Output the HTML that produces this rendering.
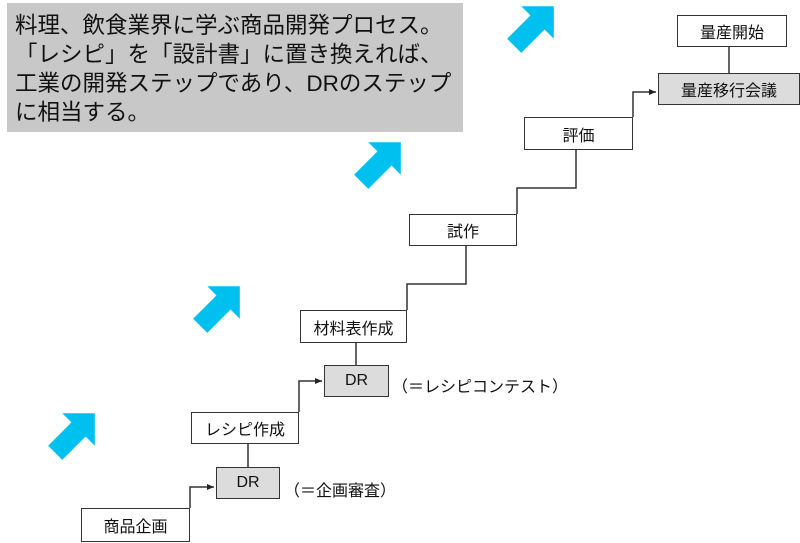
<!DOCTYPE html>
<html><head><meta charset="utf-8"><style>
body{margin:0;width:800px;height:543px;background:#fff;position:relative;overflow:hidden;font-family:"Liberation Sans","Noto Sans CJK JP",sans-serif;}
.t{position:absolute;left:7px;top:3px;width:456px;height:129px;background:#c8c8c8;font-size:22.5px;line-height:29px;color:#111;padding:8px 0 0 8px;box-sizing:border-box;white-space:nowrap}
.b{position:absolute;border:1.5px solid #333;background:#fff;box-sizing:border-box;font-size:16px;display:flex;align-items:center;justify-content:center;color:#111}
.g{background:#dcdcdc}
.l{position:absolute;font-size:16px;color:#111}
svg{position:absolute;left:0;top:0}
</style></head><body>
<svg width="800" height="543">
<defs>
<marker id="a" markerWidth="8" markerHeight="8" refX="7" refY="4" orient="auto" markerUnits="userSpaceOnUse"><path d="M0,1 L7,4 L0,7z" fill="#222"/></marker>
<g id="arr"><polygon points="-28,-10 5,-10 5,-23 28,0 5,23 5,10 -28,10" fill="#00c0f0"/></g>
</defs>
<g stroke="#333" stroke-width="1.5" fill="none">
<polyline points="190,508 190,487 214,487" marker-end="url(#a)"/>
<line x1="248" y1="467" x2="248" y2="444"/>
<polyline points="299,412 299,381 322,381" marker-end="url(#a)"/>
<line x1="356" y1="365" x2="356" y2="343"/>
<polyline points="407,310 407,284 466,284 466,246"/>
<polyline points="517,214 517,188 576,188 576,150"/>
<polyline points="633,117 633,92 656,92" marker-end="url(#a)"/>
<line x1="729" y1="73" x2="729" y2="47"/>
</g>
<use href="#arr" transform="translate(75,433) rotate(-45)"/>
<use href="#arr" transform="translate(220,306) rotate(-45)"/>
<use href="#arr" transform="translate(381,162) rotate(-45)"/>
<use href="#arr" transform="translate(534,26) rotate(-45)"/>
</svg>
<div class="t">料理、飲食業界に学ぶ商品開発プロセス。<br>「レシピ」を「設計書」に置き換えれば、<br>工業の開発ステップであり、DRのステップ<br>に相当する。</div>
<div class="b" style="left:81px;top:508px;width:109px;height:34px">商品企画</div>
<div class="b g" style="left:216px;top:467px;width:64px;height:32px">DR</div>
<div class="l" style="left:284px;top:477px">（＝企画審査）</div>
<div class="b" style="left:191px;top:412px;width:108px;height:32px">レシピ作成</div>
<div class="b g" style="left:324px;top:365px;width:65px;height:32px">DR</div>
<div class="l" style="left:392px;top:373px">（＝レシピコンテスト）</div>
<div class="b" style="left:300px;top:310px;width:107px;height:33px">材料表作成</div>
<div class="b" style="left:409px;top:214px;width:108px;height:32px">試作</div>
<div class="b" style="left:524px;top:117px;width:109px;height:33px">評価</div>
<div class="b g" style="left:658px;top:73px;width:142px;height:32px">量産移行会議</div>
<div class="b" style="left:677px;top:15px;width:110px;height:32px">量産開始</div>
</body></html>
